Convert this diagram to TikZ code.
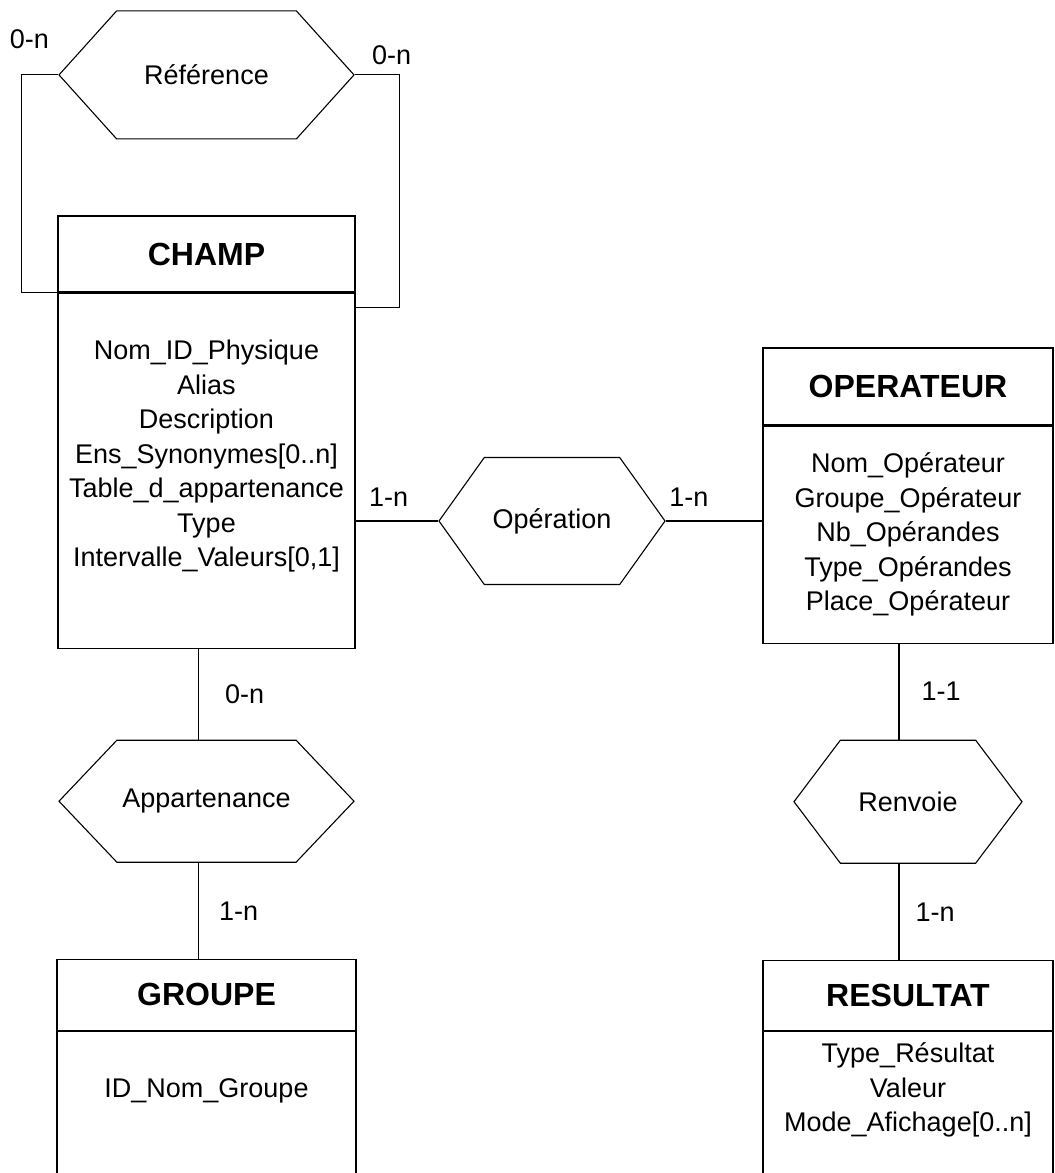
\documentclass[tikz,border=0pt]{standalone}
\usepackage{fontspec}
\newfontfamily\helv{Liberation Sans}
\usetikzlibrary{positioning, shapes.symbols}

\newcommand{\attrfont}{\helv\fontsize{27pt}{34.5pt}\selectfont}
\newcommand{\titrefont}{\helv\bfseries\fontsize{32pt}{36pt}\selectfont}

\begin{document}
\begin{tikzpicture}[
x=1pt, y=1pt,
entite/.style    ={rectangle, draw, font=\titrefont, inner sep=0pt, minimum width=297pt},
attributs/.style ={rectangle, draw, font=\attrfont, align=center, inner sep=0pt, minimum width=297pt},
relation/.style  ={signal, signal to=west and east, draw, font=\attrfont, inner sep=0pt},
card/.style      ={font=\attrfont, inner sep=0pt},
line/.style      ={draw},
line width=1.1pt,
node distance=0pt,
]

\useasboundingbox (0,0) rectangle (1055,-1173);
\clip (0,0) rectangle (1055,-1173);

% Define the nodes
\node[entite, minimum height=76pt]                  (champ)      at (206.5,-254) {CHAMP};
\node[attributs, minimum height=355pt, below=of champ] (champ_att) {Nom\_ID\_Physique\\Alias\\Description\\Ens\_Synonymes[0..n]\\Table\_d\_appartenance\\Type\\Intervalle\_Valeurs[0,1]\\[0pt]\mbox{}};
\node[relation, minimum width=295pt, minimum height=128pt, signal pointer angle=96, above=76pt of champ] (ref) {Référence};
\node[relation, minimum width=295pt, minimum height=122pt, signal pointer angle=93, below=91pt of champ_att] (app) {Appartenance};
\node[entite, minimum width=299pt, minimum height=71pt, below=96pt of app] (groupe) {GROUPE};
\node[attributs, minimum width=299pt, minimum height=173pt, below=of groupe] (groupe_att) {ID\_Nom\_Groupe\\[26pt]\mbox{}};

\node[relation, minimum width=226pt, minimum height=127pt, signal pointer angle=109] (op) at (552,-521) {Opération};
\node[entite, minimum width=290pt, minimum height=77pt]   (oper) at (908,-386.5) {OPERATEUR};
\node[attributs, minimum width=290pt, minimum height=217pt, below=of oper] (oper_att) {Nom\_Opérateur\\Groupe\_Opérateur\\Nb\_Opérandes\\Type\_Opérandes\\Place\_Opérateur};
\node[relation, minimum width=228pt, minimum height=123pt, signal pointer angle=106, below=96pt of oper_att] (renv) {Renvoie};
\node[entite, minimum width=290pt, minimum height=70pt, below=96pt of renv] (res) {RESULTAT};
\node[attributs, minimum width=290pt, minimum height=173pt, below=of res] (res_att) {Type\_Résultat\\Valeur\\Mode\_Afichage[0..n]\\[27pt]\mbox{}};

% Connect the nodes
\path[line] (ref.west) -- node[card, above=26pt, pos=0.78] (c_ref1) {0-n} ++(-37,0) |- (champ.south west);
\path[line] (ref.east) -- node[card, above=10pt, pos=0.82] (c_ref2) {0-n} ++(45,0) |- ([yshift=-15pt]champ_att.north east);
\path[line] (champ_att.east |- op.west) -- node[card, above=14pt, pos=0.4] (c_op1) {1-n} (op.west);
\path[line] (op.east) -- node[card, above=14pt, pos=0.24] (c_op2) {1-n} (op.east -| oper_att.west);
\path[line] ([xshift=-8pt]champ_att.south) -- node[card, right=26pt] (c_app1) {0-n} ([xshift=-8pt]champ_att.south |- app.north);
\path[line] ([xshift=-8pt]app.south) -- node[card, right=20pt] (c_app2) {1-n} ([xshift=-8pt]app.south |- groupe.north);
\path[line] ([xshift=-9pt]oper_att.south) -- node[card, right=22pt] (c_renv1) {1-1} ([xshift=-9pt]oper_att.south |- renv.north);
\path[line] ([xshift=-9pt]renv.south) -- node[card, right=16pt] (c_renv2) {1-n} ([xshift=-9pt]renv.south |- res.north);

\end{tikzpicture}
\end{document}
